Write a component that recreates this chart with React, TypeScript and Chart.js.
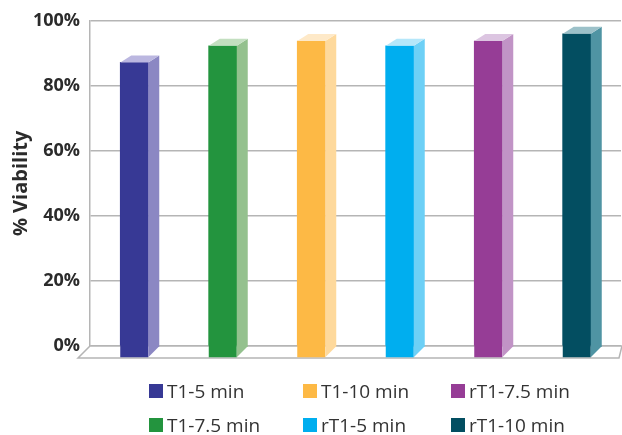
import React, { useEffect, useRef } from "react";
import { Chart, registerables } from "chart.js";

Chart.register(...registerables);

const categories = ["T1-5 min", "T1-7.5 min", "T1-10 min", "rT1-5 min", "rT1-7.5 min", "rT1-10 min"];
const viability = [87.2, 92.3, 93.8, 92.3, 93.8, 96.0];
const yTicks = [0, 20, 40, 60, 80, 100];
const frontColors = ["#373995", "#23943e", "#fdb945", "#00aeef", "#963d96", "#034e61"];
const sideColors = ["#8b87c3", "#94c18e", "#fed99c", "#6dd0f6", "#c194c6", "#4f94a3"];
const topColors = ["#bbb7e0", "#c3dfc0", "#fee9c8", "#b5e7fa", "#dcc5e1", "#9cc1c9"];

const GRID = "#b5b5b5";
const TEXT = "#2b2b2b";
const FLOOR_DEPTH = 12;
const BAR_DX = 11;
const BAR_TOP_DY = 7;
const BAR_BOTTOM_DY = 11;

const threeD = {
  id: "threeD",
  beforeDatasetsDraw(chart: any) {
    const { ctx, chartArea } = chart;
    const { left, right, bottom } = chartArea;
    ctx.save();
    ctx.beginPath();
    ctx.moveTo(left, bottom);
    ctx.lineTo(right + 1, bottom);
    ctx.lineTo(right - 2, bottom + FLOOR_DEPTH);
    ctx.lineTo(left - FLOOR_DEPTH, bottom + FLOOR_DEPTH);
    ctx.closePath();
    ctx.fillStyle = "#ffffff";
    ctx.fill();
    ctx.strokeStyle = GRID;
    ctx.lineWidth = 1.5;
    ctx.stroke();
    ctx.restore();
  },
  afterDatasetsDraw(chart: any) {
    const { ctx } = chart;
    const meta = chart.getDatasetMeta(0);
    ctx.save();
    meta.data.forEach((el: any, i: number) => {
      const { x, y, base, width } = el.getProps(["x", "y", "base", "width"], true);
      const l = x - width / 2;
      const r = x + width / 2;
      const fb = base + FLOOR_DEPTH;
      ctx.fillStyle = frontColors[i];
      ctx.fillRect(l, y, width, fb - y);
      ctx.beginPath();
      ctx.moveTo(r, y);
      ctx.lineTo(r + BAR_DX, y - BAR_TOP_DY);
      ctx.lineTo(r + BAR_DX, fb - BAR_BOTTOM_DY);
      ctx.lineTo(r, fb);
      ctx.closePath();
      ctx.fillStyle = sideColors[i];
      ctx.fill();
      ctx.beginPath();
      ctx.moveTo(l, y);
      ctx.lineTo(r, y);
      ctx.lineTo(r + BAR_DX, y - BAR_TOP_DY);
      ctx.lineTo(l + BAR_DX, y - BAR_TOP_DY);
      ctx.closePath();
      ctx.fillStyle = topColors[i];
      ctx.fill();
    });
    ctx.restore();
  },
};

export default function App() {
  const canvasRef = useRef<HTMLCanvasElement | null>(null);

  useEffect(() => {
    if (!canvasRef.current) return;
    const chart = new Chart(canvasRef.current, {
      type: "bar",
      data: {
        labels: categories,
        datasets: [
          {
            data: viability,
            backgroundColor: frontColors,
            barThickness: 28,
          },
        ],
      },
      options: {
        animation: false,
        responsive: false,
        maintainAspectRatio: false,
        devicePixelRatio: 1,
        layout: { padding: { left: 0, right: 1, top: 18, bottom: 89 } },
        plugins: { legend: { display: false }, tooltip: { enabled: false } },
        scales: {
          x: { display: false },
          y: {
            min: 0,
            max: 100,
            afterBuildTicks: (scale: any) => {
              scale.ticks = yTicks.map((v) => ({ value: v }));
            },
            afterFit: (scale: any) => {
              scale.width = 90;
            },
            ticks: {
              callback: (v: any) => v + "%",
              font: { family: "'Open Sans'", size: 18, weight: "bold" },
              color: TEXT,
              padding: 10,
            },
            grid: { color: GRID, lineWidth: 1.5, drawTicks: false },
            border: { display: true, color: GRID, width: 1.5 },
            title: {
              display: true,
              text: "% Viability",
              font: { family: "'Open Sans'", size: 20, weight: "bold" },
              color: TEXT,
              padding: { top: 9, bottom: 0 },
            },
          },
        },
      },
      plugins: [threeD],
    });
    return () => chart.destroy();
  }, []);

  return (
    <div style={{ position: "absolute", left: 0, top: 0, width: 622, height: 435, background: "#fff" }}>
      <canvas ref={canvasRef} width={622} height={435} style={{ display: "block" }} />
      <div
        style={{
          position: "absolute",
          left: 149,
          top: 384,
          display: "grid",
          gridTemplateColumns: "154px 148px auto",
          gridTemplateRows: "14px 14px",
          rowGap: 20,
          gridAutoFlow: "column",
          fontFamily: "'Open Sans', sans-serif",
          fontSize: 19,
          color: "#333",
        }}
      >
        {categories.map((c, i) => (
          <div key={c} style={{ display: "flex", alignItems: "center", height: 14, whiteSpace: "nowrap" }}>
            <span style={{ display: "inline-block", width: 14, height: 14, background: frontColors[i], marginRight: 4 }} />
            <span style={{ lineHeight: "14px" }}>{c}</span>
          </div>
        ))}
      </div>
    </div>
  );
}
